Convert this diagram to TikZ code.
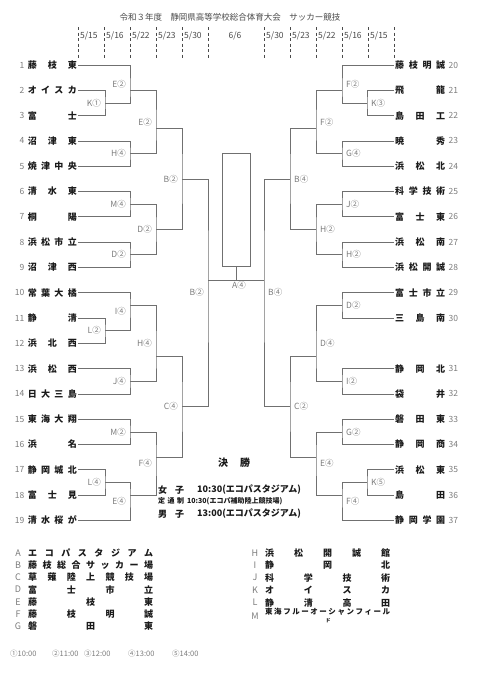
\documentclass[tikz,border=0pt]{standalone}
\usepackage{fontspec}
\setmainfont{Noto Sans CJK JP}
\usepackage{tikz}
\usepackage{xcolor}
\definecolor{CupInk}{HTML}{1A1A1A}
\definecolor{CupLine}{HTML}{707070}
\definecolor{CupLabel}{HTML}{7C7C7C}
\definecolor{CupDate}{HTML}{4A4A4A}

% spread the characters of a name over a fixed width
\def\jnA#1{#1\jnB}
\def\jnB#1{\ifx\relax#1\else\hfill#1\expandafter\jnB\fi}
\newcommand\jn[2][49pt]{\makebox[#1][s]{\jnA#2\relax}}

\begin{document}
\begin{tikzpicture}[x=1pt, y=-1pt,
    team/.style={font=\fontsize{9}{10}\selectfont\bfseries, text=CupInk, inner sep=1pt},
    num/.style={font=\fontsize{8.5}{10}\selectfont, text=CupLabel, inner sep=2pt},
    lblL/.style={font=\fontsize{8.5}{10}\selectfont, text=CupLabel, inner sep=1pt, anchor=east, xshift=-3pt},
    lblR/.style={font=\fontsize{8.5}{10}\selectfont, text=CupLabel, inner sep=1pt, anchor=west, xshift=3pt},
    bline/.style={draw=CupLine, line width=0.7pt},
    datesep/.style={draw=CupDate, line width=0.6pt, dash pattern=on 3pt off 2.5pt},
    datetxt/.style={font=\fontsize{8.5}{10}\selectfont, text=CupDate, inner sep=1pt},
    legkey/.style={font=\fontsize{9}{10}\selectfont, text=CupLabel, inner sep=1pt},
    legname/.style={font=\fontsize{9}{10}\selectfont\bfseries, text=CupInk, inner sep=1pt, anchor=west},
    timekey/.style={font=\fontsize{7.5}{9}\selectfont, text=CupLabel, inner sep=1pt, anchor=west},
    fin/.style={font=\fontsize{9}{10}\selectfont\bfseries, text=CupInk, inner sep=1pt, anchor=west},
    finsm/.style={font=\fontsize{7}{8}\selectfont\bfseries, text=CupInk, inner sep=1pt, anchor=west}
  ]
    \useasboundingbox (0,0) rectangle (481,673);

    % header
    \node[datetxt] (title) at (230,17) {令和３年度　静岡県高等学校総合体育大会　サッカー競技};
    \foreach \x in {78,104,130,156,182,208,264,290,316,342,368,394}
      \draw[datesep] (\x,27) -- (\x,58);
    \node[datetxt, anchor=west] (dl1) at (79,36) {5/15};
    \node[datetxt, anchor=west] (dl2) at (105,36) {5/16};
    \node[datetxt, anchor=west] (dl3) at (131,36) {5/22};
    \node[datetxt, anchor=west] (dl4) at (157,36) {5/23};
    \node[datetxt, anchor=west] (dl5) at (183,36) {5/30};
    \node[datetxt] (dfinal) at (235,36) {6/6};
    \node[datetxt, anchor=west] (dr5) at (265,36) {5/30};
    \node[datetxt, anchor=west] (dr4) at (291,36) {5/23};
    \node[datetxt, anchor=west] (dr3) at (317,36) {5/22};
    \node[datetxt, anchor=west] (dr2) at (343,36) {5/16};
    \node[datetxt, anchor=west] (dr1) at (369,36) {5/15};

    % trophy box
    \node[draw=CupLine, line width=0.7pt, minimum width=28pt, minimum height=113.7pt, inner sep=0pt] (winbox) at (236,209.85) {};

    \begin{scope}[shift={(0,65)}, y=-12.65pt]
    % left teams
    \node[team, anchor=east, label={[num]left:1}] (t1) at (78,0) {\jn{藤枝東}};
    \node[team, anchor=east, label={[num]left:2}] (t2) at (78,2) {\jn{オイスカ}};
    \node[team, anchor=east, label={[num]left:3}] (t3) at (78,4) {\jn{富士}};
    \node[team, anchor=east, label={[num]left:4}] (t4) at (78,6) {\jn{沼津東}};
    \node[team, anchor=east, label={[num]left:5}] (t5) at (78,8) {\jn{焼津中央}};
    \node[team, anchor=east, label={[num]left:6}] (t6) at (78,10) {\jn{清水東}};
    \node[team, anchor=east, label={[num]left:7}] (t7) at (78,12) {\jn{桐陽}};
    \node[team, anchor=east, label={[num]left:8}] (t8) at (78,14) {\jn{浜松市立}};
    \node[team, anchor=east, label={[num]left:9}] (t9) at (78,16) {\jn{沼津西}};
    \node[team, anchor=east, label={[num]left:10}] (t10) at (78,18) {\jn{常葉大橘}};
    \node[team, anchor=east, label={[num]left:11}] (t11) at (78,20) {\jn{静清}};
    \node[team, anchor=east, label={[num]left:12}] (t12) at (78,22) {\jn{浜北西}};
    \node[team, anchor=east, label={[num]left:13}] (t13) at (78,24) {\jn{浜松西}};
    \node[team, anchor=east, label={[num]left:14}] (t14) at (78,26) {\jn{日大三島}};
    \node[team, anchor=east, label={[num]left:15}] (t15) at (78,28) {\jn{東海大翔}};
    \node[team, anchor=east, label={[num]left:16}] (t16) at (78,30) {\jn{浜名}};
    \node[team, anchor=east, label={[num]left:17}] (t17) at (78,32) {\jn{静岡城北}};
    \node[team, anchor=east, label={[num]left:18}] (t18) at (78,34) {\jn{富士見}};
    \node[team, anchor=east, label={[num]left:19}] (t19) at (78,36) {\jn{清水桜が}};

    % right teams
    \node[team, anchor=west, label={[num]right:20}] (t20) at (394,0) {\jn[50pt]{藤枝明誠}};
    \node[team, anchor=west, label={[num]right:21}] (t21) at (394,2) {\jn[50pt]{飛龍}};
    \node[team, anchor=west, label={[num]right:22}] (t22) at (394,4) {\jn[50pt]{島田工}};
    \node[team, anchor=west, label={[num]right:23}] (t23) at (394,6) {\jn[50pt]{暁秀}};
    \node[team, anchor=west, label={[num]right:24}] (t24) at (394,8) {\jn[50pt]{浜松北}};
    \node[team, anchor=west, label={[num]right:25}] (t25) at (394,10) {\jn[50pt]{科学技術}};
    \node[team, anchor=west, label={[num]right:26}] (t26) at (394,12) {\jn[50pt]{富士東}};
    \node[team, anchor=west, label={[num]right:27}] (t27) at (394,14) {\jn[50pt]{浜松南}};
    \node[team, anchor=west, label={[num]right:28}] (t28) at (394,16) {\jn[50pt]{浜松開誠}};
    \node[team, anchor=west, label={[num]right:29}] (t29) at (394,18) {\jn[50pt]{富士市立}};
    \node[team, anchor=west, label={[num]right:30}] (t30) at (394,20) {\jn[50pt]{三島南}};
    \node[team, anchor=west, label={[num]right:31}] (t31) at (394,24) {\jn[50pt]{静岡北}};
    \node[team, anchor=west, label={[num]right:32}] (t32) at (394,26) {\jn[50pt]{袋井}};
    \node[team, anchor=west, label={[num]right:33}] (t33) at (394,28) {\jn[50pt]{磐田東}};
    \node[team, anchor=west, label={[num]right:34}] (t34) at (394,30) {\jn[50pt]{静岡商}};
    \node[team, anchor=west, label={[num]right:35}] (t35) at (394,32) {\jn[50pt]{浜松東}};
    \node[team, anchor=west, label={[num]right:36}] (t36) at (394,34) {\jn[50pt]{島田}};
    \node[team, anchor=west, label={[num]right:37}] (t37) at (394,36) {\jn[50pt]{静岡学園}};

    % left match points
    \coordinate (K1) at (105,3);
    \coordinate (E2a) at (130,2);
    \coordinate (H4a) at (130,7);
    \coordinate (E2b) at (156,5);
    \coordinate (M4) at (130,11);
    \coordinate (D2a) at (130,15);
    \coordinate (D2b) at (156,13);
    \coordinate (B2a) at (182,9);
    \coordinate (L2) at (105,21);
    \coordinate (I4) at (130,19);
    \coordinate (J4) at (130,25);
    \coordinate (H4b) at (156,23);
    \coordinate (M2) at (130,29);
    \coordinate (L4) at (105,33);
    \coordinate (E4a) at (130,34);
    \coordinate (F4a) at (156,31);
    \coordinate (C4) at (182,27);
    \coordinate (B2b) at (208,17);
    % right match points
    \coordinate (K3) at (367,3);
    \coordinate (F2a) at (342,2);
    \coordinate (G4) at (342,7);
    \coordinate (F2b) at (316,5);
    \coordinate (J2) at (342,11);
    \coordinate (H2a) at (342,15);
    \coordinate (H2b) at (316,13);
    \coordinate (B4a) at (290,9);
    \coordinate (D2c) at (342,19);
    \coordinate (I2) at (342,25);
    \coordinate (D4) at (316,23);
    \coordinate (G2) at (342,29);
    \coordinate (K5) at (367,33);
    \coordinate (F4b) at (342,34);
    \coordinate (E4b) at (316,31);
    \coordinate (C2) at (290,27);
    \coordinate (B4b) at (264,17);
    \coordinate (A4) at (236,17);

    % left bracket
    \draw[bline] (t2.east) -| (K1) |- (t3.east);
    \draw[bline] (t1.east) -| (E2a) |- (K1);
    \draw[bline] (t4.east) -| (H4a) |- (t5.east);
    \draw[bline] (E2a) -| (E2b) |- (H4a);
    \draw[bline] (t6.east) -| (M4) |- (t7.east);
    \draw[bline] (t8.east) -| (D2a) |- (t9.east);
    \draw[bline] (M4) -| (D2b) |- (D2a);
    \draw[bline] (E2b) -| (B2a) |- (D2b);
    \draw[bline] (t11.east) -| (L2) |- (t12.east);
    \draw[bline] (t10.east) -| (I4) |- (L2);
    \draw[bline] (t13.east) -| (J4) |- (t14.east);
    \draw[bline] (I4) -| (H4b) |- (J4);
    \draw[bline] (t15.east) -| (M2) |- (t16.east);
    \draw[bline] (t17.east) -| (L4) |- (t18.east);
    \draw[bline] (L4) -| (E4a) |- (t19.east);
    \draw[bline] (M2) -| (F4a) |- (E4a);
    \draw[bline] (H4b) -| (C4) |- (F4a);
    \draw[bline] (B2a) -| (B2b) |- (C4);

    % right bracket
    \draw[bline] (t21.west) -| (K3) |- (t22.west);
    \draw[bline] (t20.west) -| (F2a) |- (K3);
    \draw[bline] (t23.west) -| (G4) |- (t24.west);
    \draw[bline] (F2a) -| (F2b) |- (G4);
    \draw[bline] (t25.west) -| (J2) |- (t26.west);
    \draw[bline] (t27.west) -| (H2a) |- (t28.west);
    \draw[bline] (J2) -| (H2b) |- (H2a);
    \draw[bline] (F2b) -| (B4a) |- (H2b);
    \draw[bline] (t29.west) -| (D2c) |- (t30.west);
    \draw[bline] (t31.west) -| (I2) |- (t32.west);
    \draw[bline] (D2c) -| (D4) |- (I2);
    \draw[bline] (t33.west) -| (G2) |- (t34.west);
    \draw[bline] (t35.west) -| (K5) |- (t36.west);
    \draw[bline] (K5) -| (F4b) |- (t37.west);
    \draw[bline] (G2) -| (E4b) |- (F4b);
    \draw[bline] (D4) -| (C2) |- (E4b);
    \draw[bline] (B4a) -| (B4b) |- (C2);

    % final
    \draw[bline] (B2b) -- (B4b);
    \draw[bline] (winbox) -- (A4);
    \node[lblR, anchor=north, xshift=0pt] (lA4) at (A4) {A④};

    % left venue labels
    \node[lblL] (lK1) at (105,3) {K①};
    \node[lblL] (lE2a) at (130,1.5) {E②};
    \node[lblL] (lH4a) at (130,7) {H④};
    \node[lblL] (lE2b) at (156,4.5) {E②};
    \node[lblL] (lM4) at (130,11) {M④};
    \node[lblL] (lD2a) at (130,15) {D②};
    \node[lblL] (lD2b) at (156,13) {D②};
    \node[lblL] (lB2a) at (182,9) {B②};
    \node[lblL] (lL2) at (105,21) {L②};
    \node[lblL] (lI4) at (130,19.5) {I④};
    \node[lblL] (lJ4) at (130,25) {J④};
    \node[lblL] (lH4b) at (156,22) {H④};
    \node[lblL] (lM2) at (130,29) {M②};
    \node[lblL] (lL4) at (105,33) {L④};
    \node[lblL] (lE4a) at (130,34.5) {E④};
    \node[lblL] (lF4a) at (156,31.5) {F④};
    \node[lblL] (lC4) at (182,27) {C④};
    \node[lblL] (lB2b) at (208,18) {B②};
    % right venue labels
    \node[lblR] (lF2a) at (342,1.5) {F②};
    \node[lblR] (lK3) at (367,3) {K③};
    \node[lblR] (lF2b) at (316,4.5) {F②};
    \node[lblR] (lG4) at (342,7) {G④};
    \node[lblR] (lB4a) at (290,9) {B④};
    \node[lblR] (lJ2) at (342,11) {J②};
    \node[lblR] (lH2b) at (316,13) {H②};
    \node[lblR] (lH2a) at (342,15) {H②};
    \node[lblR] (lB4b) at (264,18) {B④};
    \node[lblR] (lD2c) at (342,19) {D②};
    \node[lblR] (lD4) at (316,22) {D④};
    \node[lblR] (lI2) at (342,25) {I②};
    \node[lblR] (lC2) at (290,27) {C②};
    \node[lblR] (lG2) at (342,29) {G②};
    \node[lblR] (lE4b) at (316,31.5) {E④};
    \node[lblR] (lK5) at (367,33) {K⑤};
    \node[lblR] (lF4b) at (342,34.5) {F④};
    \end{scope}

    % final schedule
    \node[font=\fontsize{10}{11}\selectfont\bfseries, text=CupInk] (finalhd) at (234,463) {\jn[32pt]{決勝}};
    \node[fin] (girlsk) at (157,490) {\jn[26pt]{女子}};
    \node[fin] (girlst) at (196,490) {10:30(エコパスタジアム)};
    \node[finsm] (partk) at (157,501) {\jn[26pt]{定通制}};
    \node[finsm] (partt) at (186,501) {10:30(エコパ補助陸上競技場)};
    \node[fin] (boysk) at (157,514) {\jn[26pt]{男子}};
    \node[fin] (boyst) at (196,514) {13:00(エコパスタジアム)};

    % venue legend
    \node[legkey] (kA) at (18,553) {A};
    \node[legkey] (kB) at (18,565.2) {B};
    \node[legkey] (kC) at (18,577.4) {C};
    \node[legkey] (kD) at (18,589.6) {D};
    \node[legkey] (kE) at (18,601.8) {E};
    \node[legkey] (kF) at (18,614) {F};
    \node[legkey] (kG) at (18,626.2) {G};
    \node[legname] (vA) at (27,553) {\jn[125pt]{エコパスタジアム}};
    \node[legname] (vB) at (27,565.2) {\jn[125pt]{藤枝総合サッカー場}};
    \node[legname] (vC) at (27,577.4) {\jn[125pt]{草薙陸上競技場}};
    \node[legname] (vD) at (27,589.6) {\jn[125pt]{富士市立}};
    \node[legname] (vE) at (27,601.8) {\jn[125pt]{藤枝東}};
    \node[legname] (vF) at (27,614) {\jn[125pt]{藤枝明誠}};
    \node[legname] (vG) at (27,626.2) {\jn[125pt]{磐田東}};
    \node[legkey] (kH) at (255,553) {H};
    \node[legkey] (kI) at (255,565.2) {I};
    \node[legkey] (kJ) at (255,577.6) {J};
    \node[legkey] (kK) at (255,590.2) {K};
    \node[legkey] (kL) at (255,602.6) {L};
    \node[legkey] (kM) at (255,616) {M};
    \node[legname] (vH) at (264,553) {\jn[125pt]{浜松開誠館}};
    \node[legname] (vI) at (264,565.2) {\jn[125pt]{静岡北}};
    \node[legname] (vJ) at (264,577.6) {\jn[125pt]{科学技術}};
    \node[legname] (vK) at (264,590.2) {\jn[125pt]{オイスカ}};
    \node[legname] (vL) at (264,602.6) {\jn[125pt]{静清高田}};
    \node[legname, font=\fontsize{7.5}{8}\selectfont\bfseries] (vM) at (264,612) {\jn[125pt]{東海フルーオーシャンフィール}};
    \node[font=\fontsize{5}{5}\selectfont\bfseries, text=CupInk, inner sep=0pt] (vMb) at (328,620.5) {ド};

    % kick-off times
    \node[timekey] (tm1) at (9,654) {①10:00};
    \node[timekey] (tm2) at (51,654) {②11:00};
    \node[timekey] (tm3) at (83,654) {③12:00};
    \node[timekey] (tm4) at (127,654) {④13:00};
    \node[timekey] (tm5) at (171,654) {⑤14:00};
  \end{tikzpicture}
\end{document}
